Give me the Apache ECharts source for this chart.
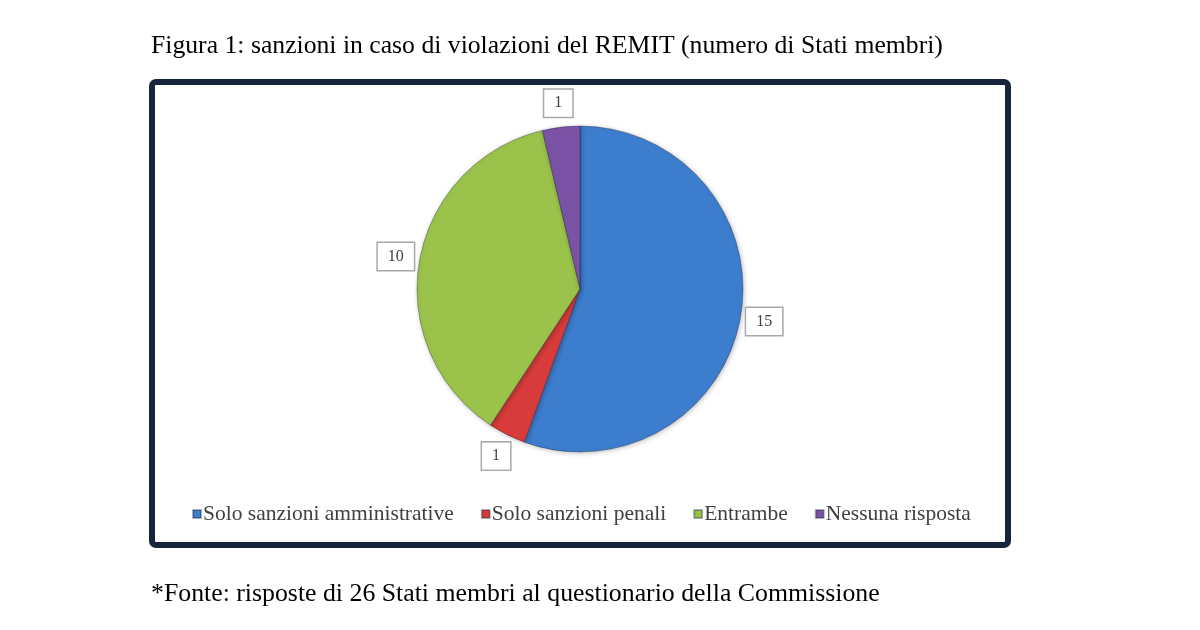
<!DOCTYPE html>
<html>
<head>
<meta charset="utf-8">
<script src="https://cdn.jsdelivr.net/npm/echarts@6/dist/echarts.min.js"></script>
<style>
html,body{margin:0;padding:0;background:#fff;}
#chart{width:1200px;height:630px;}
</style>
</head>
<body>
<div id="chart"></div>
<script>
const titleText = 'Figura 1: sanzioni in caso di violazioni del REMIT (numero di Stati membri)';
const footerText = '*Fonte: risposte di 26 Stati membri al questionario della Commissione';
const categories = ['Solo sanzioni amministrative', 'Solo sanzioni penali', 'Entrambe', 'Nessuna risposta'];
const values = [15, 1, 10, 1];
const colors = ['#3D7DCD', '#D83B3B', '#9BC24A', '#7B53A6'];

const serif = '"Liberation Serif", "Times New Roman", serif';
const pieData = categories.map((name, i) => ({ name: name, value: values[i] }));

const chart = echarts.init(document.getElementById('chart'), null, { renderer: 'canvas' });
chart.setOption({
  animation: false,
  backgroundColor: '#ffffff',
  color: colors,
  title: [
    { text: titleText, left: 146, top: 28,
      textStyle: { fontFamily: serif, fontSize: 25.7, fontWeight: 'normal', color: '#000' } },
    { text: footerText, left: 146, top: 576,
      textStyle: { fontFamily: serif, fontSize: 25.8, fontWeight: 'normal', color: '#000' } }
  ],
  graphic: [
    { type: 'rect', z: 0, silent: true,
      shape: { x: 152, y: 82, width: 856, height: 463, r: 4 },
      style: { fill: '#fff', stroke: '#17253C', lineWidth: 6 } }
  ],
  legend: {
    data: categories,
    left: 187,
    top: 498,
    icon: 'rect',
    itemWidth: 8,
    itemHeight: 8,
    itemGap: 27,
    selectedMode: false,
    textStyle: { fontFamily: serif, fontSize: 21.5, color: '#404040', padding: [0, 0, 0, -3] }
  },
  series: [
    {
      type: 'pie',
      center: [580, 289],
      radius: 163,
      startAngle: 90,
      clockwise: true,
      avoidLabelOverlap: false,
      silent: true,
      data: pieData,
      itemStyle: {
        borderColor: 'rgba(20,30,50,0.35)',
        borderWidth: 1,
        shadowBlur: 5,
        shadowColor: 'rgba(0,0,0,0.25)',
        shadowOffsetX: 1,
        shadowOffsetY: 1
      },
      label: { show: false },
      labelLine: { show: false }
    },
    {
      type: 'pie',
      center: [580, 289],
      radius: [182, 186],
      startAngle: 90,
      clockwise: true,
      avoidLabelOverlap: false,
      silent: true,
      data: pieData,
      itemStyle: { color: 'rgba(0,0,0,0)' },
      label: {
        show: true,
        position: 'inside',
        formatter: '{c}',
        fontFamily: serif,
        fontSize: 16,
        color: '#404040',
        backgroundColor: '#fff',
        borderColor: '#A8A8A8',
        borderWidth: 1.5,
        padding: [6, 10, 5, 10]
      },
      labelLine: { show: false }
    }
  ]
});
</script>
</body>
</html>
